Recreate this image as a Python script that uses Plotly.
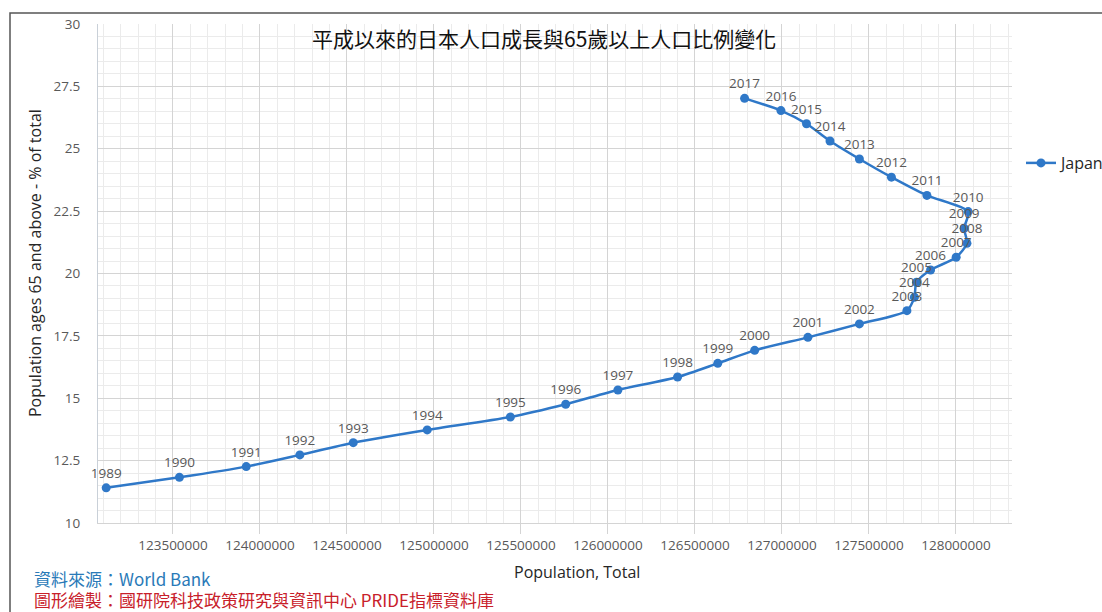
import plotly.graph_objects as go

# Japan: total population vs. share of population aged 65+ (World Bank)
years = [1989, 1990, 1991, 1992, 1993, 1994, 1995, 1996, 1997, 1998,
         1999, 2000, 2001, 2002, 2003, 2004, 2005, 2006, 2007, 2008,
         2009, 2010, 2011, 2012, 2013, 2014, 2015, 2016, 2017]
population = [123116000, 123537000, 123921000, 124229000, 124536000,
              124961000, 125439000, 125757000, 126057000, 126400000,
              126631000, 126843000, 127149000, 127445000, 127718000,
              127761000, 127773000, 127854000, 128001000, 128063000,
              128047000, 128070000, 127833000, 127629000, 127445000,
              127276000, 127141000, 126994000, 126785000]
pct_65_plus = [11.41, 11.83, 12.26, 12.73, 13.22, 13.73, 14.25, 14.76,
               15.33, 15.85, 16.40, 16.92, 17.44, 17.98, 18.51, 19.05,
               19.65, 20.14, 20.65, 21.21, 21.81, 22.48, 23.13, 23.86,
               24.59, 25.31, 26.00, 26.53, 27.02]

x_ticks = [123500000, 124000000, 124500000, 125000000, 125500000,
           126000000, 126500000, 127000000, 127500000, 128000000]
y_ticks = [10, 12.5, 15, 17.5, 20, 22.5, 25, 27.5, 30]

BLUE = "#2f78c8"
GRAY_TXT = "#595959"
FONT = "Open Sans"
CJK = "Noto Sans CJK TC"

W, H = 1102, 612
L, R, T, B = 98, 1012, 24, 523


def px(x):
    return (x - L) / (R - L)


def py(y):
    return (B - y) / (B - T)


fig = go.Figure()
fig.add_trace(go.Scatter(
    x=population, y=pct_65_plus,
    mode="lines+markers+text",
    name="Japan",
    text=[str(y) for y in years],
    textposition="top center",
    textfont=dict(family=FONT, size=13.5, color=GRAY_TXT),
    line=dict(color=BLUE, width=2.5, shape="spline", smoothing=0.7),
    marker=dict(color=BLUE, size=9),
    cliponaxis=False,
))

fig.update_layout(
    width=W, height=H,
    margin=dict(l=L, r=W - R, t=T, b=H - B, autoexpand=False),
    paper_bgcolor="white", plot_bgcolor="white",
    showlegend=True,
    legend=dict(x=px(1021), y=py(163), xanchor="left", yanchor="middle",
                font=dict(family=FONT, size=16, color="#262626"),
                bgcolor="rgba(0,0,0,0)", itemwidth=30),
    xaxis=dict(
        range=[123069000, 128322000],
        tickmode="array", tickvals=x_ticks,
        ticktext=[str(v) for v in x_ticks],
        tickfont=dict(family=FONT, size=13.5, color=GRAY_TXT),
        ticks="outside", ticklen=10, tickcolor="#d4d4d4",
        showgrid=True, gridcolor="#d4d4d4", gridwidth=1,
        minor=dict(tick0=123500000, dtick=100000, showgrid=True,
                   gridcolor="#ebebeb", gridwidth=1),
        showline=True, linecolor="#d4d4d4", zeroline=False,
    ),
    yaxis=dict(
        range=[10, 30],
        tickmode="array", tickvals=y_ticks,
        ticktext=[("%g" % v) for v in y_ticks],
        tickfont=dict(family=FONT, size=13.5, color=GRAY_TXT),
        ticks="outside", ticklen=14, tickcolor="rgba(0,0,0,0)",
        showgrid=True, gridcolor="#d4d4d4", gridwidth=1,
        minor=dict(tick0=10, dtick=0.5, showgrid=True,
                   gridcolor="#ebebeb", gridwidth=1),
        showline=True, linecolor="#c9d0d8", zeroline=False,
    ),
    shapes=[dict(type="rect", xref="paper", yref="paper",
                 x0=px(10), x1=px(1120), y0=py(630), y1=py(13),
                 line=dict(color="#555555", width=1.5),
                 fillcolor="rgba(0,0,0,0)", layer="below")],
    annotations=[
        dict(text="平成以來的日本人口成長與65歲以上人口比例變化",
             xref="paper", yref="paper", x=px(544), y=py(38),
             xanchor="center", yanchor="middle", showarrow=False,
             font=dict(family=CJK, size=21, color="#111111")),
        dict(text="Population ages 65 and above - % of total",
             xref="paper", yref="paper", x=px(35), y=py(263),
             xanchor="center", yanchor="middle", textangle=-90,
             showarrow=False,
             font=dict(family=FONT, size=16, color="#262626")),
        dict(text="Population, Total",
             xref="paper", yref="paper", x=px(577), y=py(572),
             xanchor="center", yanchor="middle", showarrow=False,
             font=dict(family=FONT, size=16, color="#262626")),
        dict(text="資料來源：World Bank",
             xref="paper", yref="paper", x=px(32), y=py(578),
             xanchor="left", yanchor="middle", showarrow=False,
             font=dict(family=CJK, size=17, color="#2a7ab8")),
        dict(text="圖形繪製：國研院科技政策研究與資訊中心 PRIDE指標資料庫",
             xref="paper", yref="paper", x=px(32), y=py(599),
             xanchor="left", yanchor="middle", showarrow=False,
             font=dict(family=CJK, size=17, color="#c8202a")),
    ],
)

fig.write_html("out.html")
